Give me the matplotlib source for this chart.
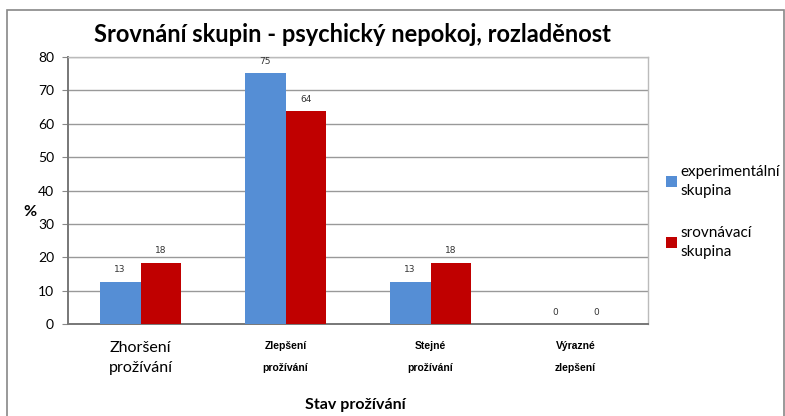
import matplotlib.pyplot as plt
import numpy as np
from matplotlib.patches import Rectangle

# data
categories = ["Zhoršení\nprožívání", "Zlepšení\nprožívání", "Stejné\nprožívání", "Výrazné\nzlepšení"]
experimental = [12.7, 75.2, 12.7, 0]
comparison = [18.4, 63.8, 18.4, 0]
series_names = ["experimentální\nskupina", "srovnávací\nskupina"]
yticks = [0, 10, 20, 30, 40, 50, 60, 70, 80]

BLUE = "#558ED5"
RED = "#C00000"
FONT = ["Lato", "DejaVu Sans"]

fig = plt.figure(figsize=(7.85, 4.16), dpi=100)
# outer chart border
fig.patches.append(Rectangle((7 / 785, -0.01), 777 / 785, 1 - 10 / 416 + 0.01,
                             transform=fig.transFigure, fill=False,
                             edgecolor="#888888", linewidth=1.2))

ax = fig.add_axes([68 / 785, 1 - 324 / 416, 580 / 785, 267 / 416])
x = np.arange(len(categories))
w = 0.28
b1 = ax.bar(x - w / 2, experimental, w, color=BLUE, label=series_names[0], zorder=3)
b2 = ax.bar(x + w / 2, comparison, w, color=RED, label=series_names[1], zorder=3)

for bars, vals in ((b1, experimental), (b2, comparison)):
    for r, v in zip(bars, vals):
        ax.text(r.get_x() + r.get_width() / 2, v + 2.2, f"{v:.0f}",
                ha="center", va="bottom", fontsize=6.5, color="#333333",
                family="DejaVu Sans")

ax.set_xlim(-0.5, len(categories) - 0.5)
ax.set_ylim(0, 80)
ax.set_yticks(yticks)
ax.set_yticklabels([str(t) for t in yticks], fontsize=10, family=FONT)
ax.yaxis.grid(True, color="#999999", linewidth=1, zorder=0)
ax.tick_params(axis="y", length=4, color="#888888", pad=6)
ax.tick_params(axis="x", length=0, pad=12)
ax.set_xticks(x)
ax.set_xticklabels(categories)
for i, lbl in enumerate(ax.get_xticklabels()):
    if i == 0:
        lbl.set_fontsize(11.5)
        lbl.set_family(FONT)
        lbl.set_linespacing(1.55)
    else:
        lbl.set_fontsize(7.5)
        lbl.set_fontweight("bold")
        lbl.set_family(["Liberation Sans", "DejaVu Sans"])
        lbl.set_linespacing(2.6)
        lbl.set_va("top")

for s in ("left", "bottom"):
    ax.spines[s].set_color("#777777")
    ax.spines[s].set_linewidth(1.4)
for s in ("top", "right"):
    ax.spines[s].set_color("#BBBBBB")
    ax.spines[s].set_linewidth(1)

fig.text(352 / 785, 1 - 35 / 416, "Srovnání skupin - psychický nepokoj, rozladěnost",
         ha="center", va="center", fontsize=17, fontweight="bold", family=FONT)
fig.text(30 / 785, 1 - 212 / 416, "%", ha="center", va="center",
         fontsize=11.5, fontweight="bold", family=FONT)
fig.text(355 / 785, 1 - 405 / 416, "Stav prožívání", ha="center", va="center",
         fontsize=11.5, fontweight="bold", family=FONT)

leg = ax.legend(loc="center left", bbox_to_anchor=(1.013, 0.42), frameon=False,
                handlelength=0.7, handleheight=0.7, handletextpad=0.25,
                labelspacing=1.8, borderaxespad=0.3,
                prop={"family": FONT, "size": 11})
for t in leg.get_texts():
    t.set_linespacing(1.45)

fig.savefig("out.png", dpi=100)
